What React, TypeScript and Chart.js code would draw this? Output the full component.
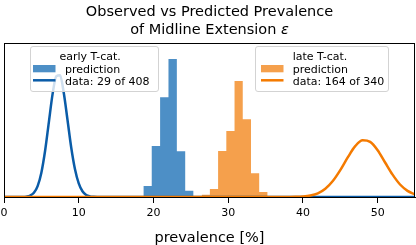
import React, { useEffect, useRef } from "react";
import { Chart, registerables } from "chart.js";

Chart.register(...registerables);

// ---------- data ----------
const titleLine1 = "Observed vs Predicted Prevalence";
const titleLine2 = "of Midline Extension ";
const titleSymbol = "ε";
const xAxisTitle = "prevalence [%]";
const tickValues = [0, 10, 20, 30, 40, 50];

const legendTitles = ["early T-cat.", "late T-cat."];
const legendLabelsEarly = ["prediction", "data: 29 of 408"];
const legendLabelsLate = ["prediction", "data: 164 of 340"];

// histogram bins of the predicted prevalence (heights in relative density units)
const earlyBinEdges = [18.65, 19.77, 20.89, 22.01, 23.13, 24.25, 25.37];
const earlyBinHeights = [0.071, 0.331, 0.647, 0.896, 0.297, 0.041];
const lateBinEdges = [26.45, 27.55, 28.65, 29.75, 30.85, 31.95, 33.05, 34.15, 35.25, 36.35];
const lateBinHeights = [0.015, 0.052, 0.299, 0.429, 0.753, 0.505, 0.154, 0.032, 0.0065];

// observed-data posterior curves
const earlyCurveX = [0, 2.5, 3, 3.5, 4, 4.5, 5, 5.5, 6, 6.5, 7, 7.5, 8, 8.5, 9, 9.5, 10, 10.5, 11, 11.5, 12, 12.5, 55];
const earlyCurveY = [0, 0, 0.0025, 0.009, 0.027, 0.071, 0.158, 0.3, 0.485, 0.668, 0.784, 0.79, 0.675, 0.5, 0.32, 0.18, 0.088, 0.037, 0.013, 0.004, 0.001, 0, 0];
const lateCurveX = [0, 37, 38, 39, 40, 41, 42, 43, 44, 45, 46, 47, 48, 49, 50, 51, 52, 53, 54, 55];
const lateCurveY = [0, 0, 0.0003, 0.001, 0.0033, 0.0095, 0.024, 0.054, 0.104, 0.175, 0.257, 0.33, 0.368, 0.358, 0.304, 0.224, 0.145, 0.081, 0.04, 0.017];

// ---------- colours ----------
const earlyHistColor = "#4d8fc6";
const lateHistColor = "#f5a04c";
const earlyLineColor = "#0a5ca8";
const lateLineColor = "#f47a00";
const FONT = "'DejaVu Sans', sans-serif";

function histPoints(edges: number[], heights: number[]) {
  const pts = [{ x: edges[0], y: 0 }];
  heights.forEach((h, i) => pts.push({ x: edges[i], y: h }));
  pts.push({ x: edges[edges.length - 1], y: 0 });
  return pts;
}

const titlePlugin = {
  id: "twoLineTitle",
  afterDraw(chart: any) {
    const ctx = chart.ctx;
    const ca = chart.chartArea;
    const cx = (ca.left + ca.right) / 2;
    ctx.save();
    ctx.fillStyle = "#000";
    ctx.textBaseline = "alphabetic";
    ctx.textAlign = "left";
    ctx.font = `14.5px ${FONT}`;
    const w1 = ctx.measureText(titleLine1).width;
    ctx.fillText(titleLine1, cx - w1 / 2, 16);
    const w2 = ctx.measureText(titleLine2).width;
    ctx.font = `italic 14.5px ${FONT}`;
    const w3 = ctx.measureText(titleSymbol).width;
    const start = cx - (w2 + w3) / 2;
    ctx.font = `14.5px ${FONT}`;
    ctx.fillText(titleLine2, start, 34);
    ctx.font = `italic 14.5px ${FONT}`;
    ctx.fillText(titleSymbol, start + w2, 34);
    ctx.restore();
  },
};

const legendPlugin = {
  id: "twoLegends",
  afterDatasetsDraw(chart: any) {
    const ctx = chart.ctx;
    const boxes = [
      { x: 30, y: 46, w: 128, h: 45, titleX: 59.5, hx: 33, tx: 65, hist: earlyHistColor, line: earlyLineColor, title: legendTitles[0], labels: legendLabelsEarly },
      { x: 255, y: 46, w: 133, h: 45, titleX: 292.7, hx: 261, tx: 292.7, hist: lateHistColor, line: lateLineColor, title: legendTitles[1], labels: legendLabelsLate },
    ];
    ctx.save();
    for (const b of boxes) {
      ctx.beginPath();
      (ctx as any).roundRect(b.x + 0.5, b.y + 0.5, b.w, b.h, 2.5);
      ctx.fillStyle = "rgba(255,255,255,0.8)";
      ctx.fill();
      ctx.strokeStyle = "#d3d3d3";
      ctx.lineWidth = 1;
      ctx.stroke();
      ctx.fillStyle = "#000";
      ctx.font = `11px ${FONT}`;
      ctx.textAlign = "left";
      ctx.textBaseline = "alphabetic";
      ctx.fillText(b.title, b.titleX, 59.5);
      ctx.fillText(b.labels[0], b.tx, 73.3);
      ctx.fillText(b.labels[1], b.tx, 84.8);
      ctx.fillStyle = b.hist;
      ctx.fillRect(b.hx, 65, 22.5, 7.3);
      ctx.strokeStyle = b.line;
      ctx.lineWidth = 2.5;
      ctx.beginPath();
      ctx.moveTo(b.hx, 80.3);
      ctx.lineTo(b.hx + 22.5, 80.3);
      ctx.stroke();
    }
    ctx.restore();
  },
};

const framePlugin = {
  id: "frame",
  afterDraw(chart: any) {
    const { ctx, chartArea: ca } = chart;
    ctx.save();
    ctx.strokeStyle = "#000";
    ctx.lineWidth = 1;
    ctx.strokeRect(ca.left + 0.5, ca.top + 0.5, ca.right - ca.left - 1, ca.bottom - ca.top);
    ctx.restore();
  },
};

export default function App() {
  const ref = useRef<HTMLCanvasElement | null>(null);
  useEffect(() => {
    if (!ref.current) return;
    const chart = new Chart(ref.current, {
      type: "line",
      data: {
        datasets: [
          {
            label: "late data",
            data: lateCurveX.map((x, i) => ({ x, y: lateCurveY[i] })),
            borderColor: lateLineColor,
            borderWidth: 2.5,
            pointRadius: 0,
            cubicInterpolationMode: "monotone",
            fill: false,
            order: 0,
          },
          {
            label: "early data",
            data: earlyCurveX.map((x, i) => ({ x, y: earlyCurveY[i] })),
            borderColor: earlyLineColor,
            borderWidth: 2.5,
            pointRadius: 0,
            cubicInterpolationMode: "monotone",
            fill: false,
            order: 1,
          },
          {
            label: "late prediction",
            data: histPoints(lateBinEdges, lateBinHeights),
            stepped: "before",
            borderWidth: 0,
            borderColor: "transparent",
            backgroundColor: lateHistColor,
            pointRadius: 0,
            fill: "origin",
            order: 2,
          },
          {
            label: "early prediction",
            data: histPoints(earlyBinEdges, earlyBinHeights),
            stepped: "before",
            borderWidth: 0,
            borderColor: "transparent",
            backgroundColor: earlyHistColor,
            pointRadius: 0,
            fill: "origin",
            order: 3,
          },
        ] as any,
      },
      options: {
        animation: false,
        responsive: false,
        devicePixelRatio: 1,
        layout: { padding: { left: 4, right: 1, top: 43, bottom: 0 } },
        plugins: { legend: { display: false }, tooltip: { enabled: false }, title: { display: false } },
        scales: {
          x: {
            type: "linear",
            min: 0,
            max: 55,
            afterBuildTicks: (s: any) => {
              s.ticks = tickValues.map((v) => ({ value: v }));
            },
            afterFit: (s: any) => {
              s.height = 48;
              s.paddingLeft = 0;
              s.paddingRight = 0;
            },
            ticks: { font: { family: FONT, size: 11 }, color: "#000", padding: 4, maxRotation: 0, autoSkip: false },
            grid: { display: true, drawOnChartArea: false, drawTicks: true, tickLength: 6, color: "#000", lineWidth: 1 },
            border: { display: true, color: "#000", width: 1 },
            title: { display: true, text: xAxisTitle, font: { family: FONT, size: 14.5, lineHeight: 1 }, color: "#000", padding: { top: 0, bottom: 0 } },
          },
          y: { display: false, min: 0, max: 1 },
        },
      } as any,
      plugins: [legendPlugin, titlePlugin, framePlugin],
    });
    return () => chart.destroy();
  }, []);
  return (
    <div style={{ position: "fixed", left: 0, top: 0, width: 416, height: 245, background: "#fff" }}>
      <canvas ref={ref} width={416} height={245} />
    </div>
  );
}
